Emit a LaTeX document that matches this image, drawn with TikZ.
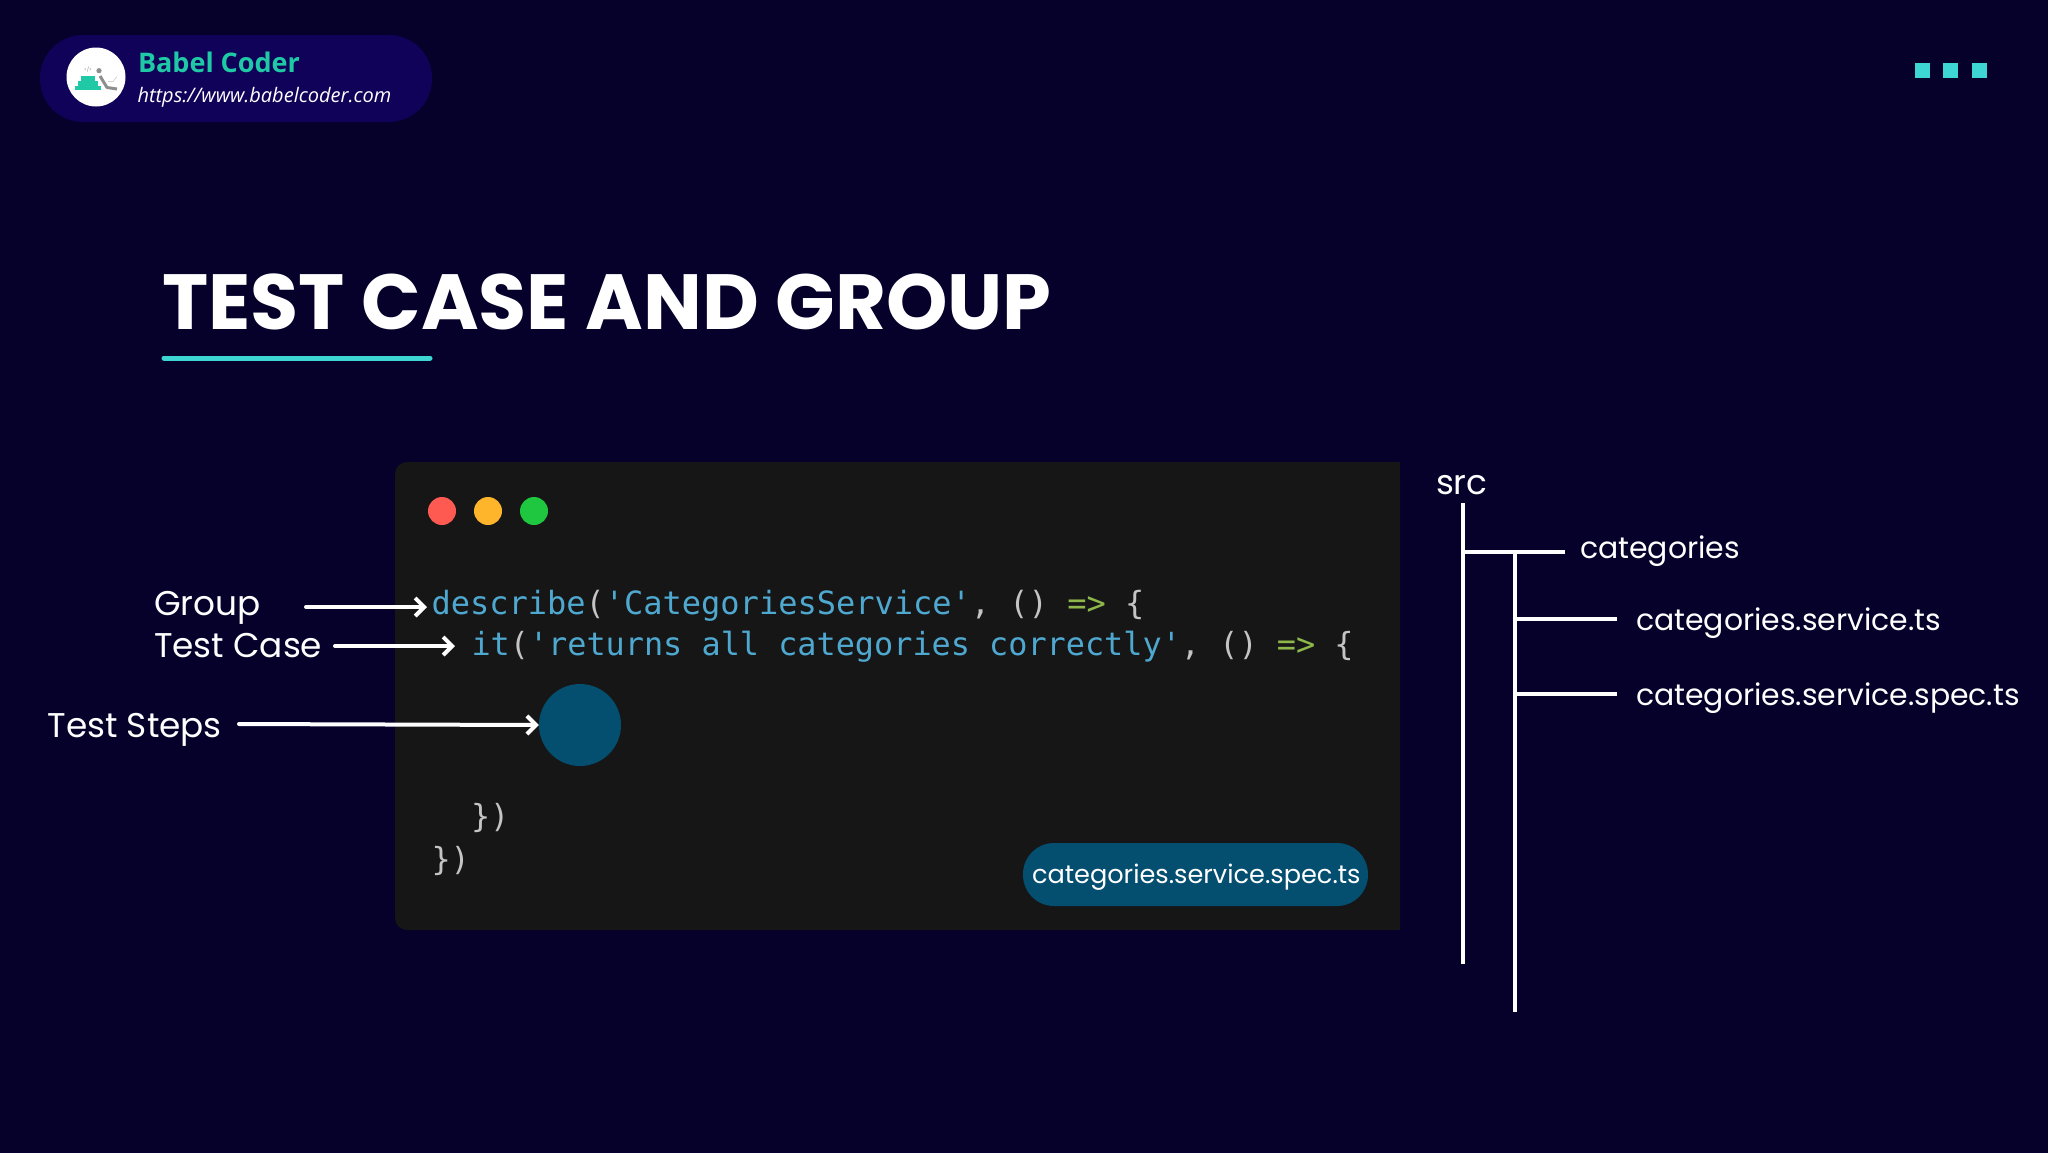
\documentclass[tikz,border=0pt]{standalone}
\usepackage{fontspec}
\usetikzlibrary{arrows.meta}
\setmainfont{Poppins}
\newfontfamily\opensans{Open Sans}
\newfontfamily\codefont{DejaVu Sans Mono}
\definecolor{bgnavy}{HTML}{05012B}
\definecolor{pillnavy}{HTML}{0F0258}
\definecolor{teal}{HTML}{20C9A6}
\definecolor{aqua}{HTML}{3DD6D2}
\definecolor{panel}{HTML}{161616}
\definecolor{chip}{HTML}{044E70}
\definecolor{codeblue}{HTML}{4FA8CF}
\definecolor{codegray}{HTML}{C4C4C4}
\definecolor{codegreen}{HTML}{8FB84A}
\definecolor{logogray}{HTML}{8E8E8E}
\definecolor{dotred}{HTML}{FF5A52}
\definecolor{dotamber}{HTML}{FFB52B}
\definecolor{dotgreen}{HTML}{1FC63F}
\tikzset{
  txt/.style={anchor=base west,inner sep=0pt,outer sep=0pt,text=white},
  label/.style={txt,font=\fontsize{34.3}{34}\selectfont},
  treelabel/.style={txt,font=\fontsize{29.9}{31}\selectfont},
  code/.style={txt,text=codegray,font=\codefont\fontsize{31.85}{32}\selectfont},
  codewide/.style={txt,text=codegray,font=\codefont\fontsize{32}{32}\selectfont},
  arrowline/.style={draw=white,line width=4pt,line cap=round,-{Straight Barb[length=9pt,width=18pt,line width=4pt]}},
  treeline/.style={draw=white,line width=4pt},
  dot/.style={circle,inner sep=0pt,minimum size=28pt},
  sq/.style={fill=aqua,minimum size=15pt,inner sep=0pt},
}
\begin{document}
\begin{tikzpicture}[x=1pt,y=-1pt]
\useasboundingbox (0,0) rectangle (2048,1152);
\fill[bgnavy] (-5,-5) rectangle (2053,1157);
% brand pill
\fill[pillnavy,rounded corners=43pt] (40,35) rectangle (432,122);
\node[circle,fill=white,minimum size=59pt,inner sep=0pt] (logo) at (96,77) {};
\fill[teal] (75,85.7) rectangle (101,90);
\fill[teal] (78,81) rectangle (98,86);
\fill[teal] (81,76) rectangle (95,81.2);
\fill[logogray] (99,70.7) circle (2.6);
\draw[logogray,line width=3pt,line join=round] (100,76) -- (107,87.5) -- (117,89);
\draw[logogray!40,line width=.7pt] (108,81.5) -- (113,81.5) -- (117,76.5);
\node[inner sep=0pt,text=logogray,font=\fontsize{5}{5}\selectfont] (logotag) at (88,70) {</>};
\node[txt,text=teal,font=\opensans\bfseries\fontsize{27}{27}\selectfont] (brand) at (138,72) {Babel Coder};
\node[txt,font=\opensans\itshape\fontsize{20}{20}\selectfont] (url) at (137.5,102) {https://www.babelcoder.com};
% squares
\node[sq] (s1) at (1922,70) {};
\node[sq] (s2) at (1950,70) {};
\node[sq] (s3) at (1979,70) {};
% title
\node[txt,font=\bfseries\fontsize{78.2}{78}\selectfont] (title) at (162,329) {TEST CASE AND GROUP};
\draw[aqua,line width=5pt,line cap=round] (164,358) -- (430,358);
% panel
\fill[panel,rounded corners=12pt] (395,462) -- (1400,462) [sharp corners] -- (1400,930) [rounded corners=12pt] -- (395,930) -- cycle;
\fill[panel] (1380,462) rectangle (1400,930);
\node[dot,fill=dotred] (red) at (442,511) {};
\node[dot,fill=dotamber] (amber) at (488,511) {};
\node[dot,fill=dotgreen] (grn) at (534,511) {};
% code
\node[codewide] (l1) at (431.5,614) {\textcolor{codeblue}{describe}(\textcolor{codeblue}{'CategoriesService'}, () \textcolor{codegreen}{=>} \{};
\node[code] (l2) at (471.5,655.5) {\textcolor{codeblue}{it}(\textcolor{codeblue}{'returns all categories correctly'}, () \textcolor{codegreen}{=>} \{};
\node[code] (l3) at (471,827) {\})};
\node[code] (l4) at (431.5,870) {\})};
\node[circle,fill=chip,minimum size=82pt,inner sep=0pt] (steps) at (580,725) {};
\node[rounded corners=31pt,fill=chip,minimum width=345pt,minimum height=63pt,inner sep=0pt] (chip) at (1195.5,874.5) {};
\node[txt,font=\fontsize{25.6}{26}\selectfont] (chiptext) at (1032,883) {categories.service.spec.ts};
% left labels
\node[label] (group) at (154,615) {Group};
\node[label] (case) at (154,657) {Test Case};
\node[label] (tsteps) at (47.5,737.5) {Test Steps};
\coordinate (g0) at (306,607);
\coordinate (g1) at (427,607);
\coordinate (c0) at (335,646);
\coordinate (c1) at (455,646);
\coordinate (t0) at (239,724);
\draw[arrowline] (g0) -- (g1);
\draw[arrowline] (c0) -- (c1);
\draw[arrowline] (t0) -- (steps.west);
% tree
\node[label] (src) at (1436,494) {src};
\node[treelabel] (cat) at (1580,558) {categories};
\node[treelabel] (svc) at (1636,630) {categories.service.ts};
\node[treelabel] (spec) at (1636,705) {categories.service.spec.ts};
\coordinate (a0) at (1463,503);
\coordinate (a1) at (1463,964);
\coordinate (a2) at (1463,552);
\coordinate (a3) at (1565,552);
\coordinate (b0) at (1515,552);
\coordinate (b1) at (1515,1012);
\coordinate (b2) at (1515,619);
\coordinate (b3) at (1617,619);
\coordinate (b4) at (1515,694);
\coordinate (b5) at (1617,694);
\draw[treeline] (a0) -- (a1);
\draw[treeline] (a2) -- (a3);
\draw[treeline] (b0) -- (b1);
\draw[treeline] (b2) -- (b3);
\draw[treeline] (b4) -- (b5);
\end{tikzpicture}
\end{document}
